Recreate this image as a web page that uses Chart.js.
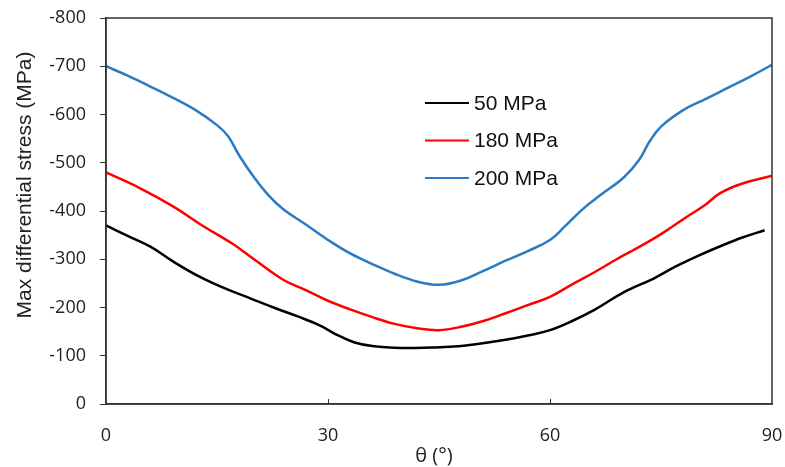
<!DOCTYPE html>
<html>
<head>
<meta charset="utf-8">
<script src="https://cdn.jsdelivr.net/npm/chart.js@4.4.1/dist/chart.umd.min.js"></script>
<style>
  html, body { margin: 0; padding: 0; background: #fff; }
  #wrap { width: 785px; height: 467px; }
</style>
</head>
<body>
<div id="wrap"><canvas id="stressChart" width="785" height="467"></canvas></div>
<script>
var seriesLabels = ['50 MPa', '180 MPa', '200 MPa'];
var seriesColors = ['#000000', '#ff0000', '#2b7bc4'];

var theta50 = [0, 3, 6, 9, 12.5, 16, 19.5, 23, 26, 29, 31, 33.5, 36, 40, 44, 47, 50, 54, 57, 60, 63, 66, 70, 74, 77, 80, 83.5, 86, 89];
var stress50 = [-370, -348, -326, -296, -265, -240, -219, -198, -181, -162, -145, -128, -120, -116, -117, -119, -124, -133, -142, -153, -172, -195, -232, -260, -285, -307, -330, -345, -360];

var theta180 = [0, 4.5, 9, 13, 17, 20, 24, 27, 30, 33, 36, 39, 42, 45, 48, 51, 54, 57, 60, 63, 66, 69, 72, 75, 78, 81, 83, 86, 90];
var stress180 = [-480, -448, -410, -370, -333, -300, -257, -236, -214, -196, -180, -166, -157, -153, -160, -172, -188, -205, -222, -248, -273, -300, -325, -352, -383, -413, -437, -457, -473];

var theta200 = [0, 3, 6, 9, 12, 15, 16.5, 18, 20, 22, 24, 27, 30, 33, 36, 39, 42, 45, 48, 51, 54, 57, 60, 62, 64.5, 67, 70, 72, 73.5, 75, 78, 81, 84, 87, 90];
var stress200 = [-700, -680, -658, -635, -610, -578, -555, -515, -470, -432, -403, -372, -340, -312, -290, -270, -254, -247, -256, -276, -297, -317, -340, -368, -405, -435, -470, -505, -545, -575, -609, -632, -655, -678, -703];

var xTickValues = [0, 30, 60, 90];
var xTitle = 'θ (°)';
var yTitle = 'Max differential stress (MPa)';

function toPoints(xs, ys) {
    var pts = [];
    for (var i = 0; i < xs.length; i++) {
        pts.push({ x: xs[i], y: ys[i] });
    }
    return pts;
}

var allSeries = [toPoints(theta50, stress50), toPoints(theta180, stress180), toPoints(theta200, stress200)];
var datasets = [];
for (var i = 0; i < allSeries.length; i++) {
    datasets.push({
        label: seriesLabels[i],
        data: allSeries[i],
        borderColor: seriesColors[i],
        borderWidth: 2.5,
        pointRadius: 0,
        fill: false,
        tension: 0.4
    });
}

var axisColor = '#333333';

// frame, inner x ticks, legend and axis titles
var decorations = {
    id: 'decorations',
    afterDatasetsDraw: function (chart) {
        var ctx = chart.ctx,
            area = chart.chartArea,
            xScale = chart.scales.x;

        ctx.save();
        ctx.strokeStyle = axisColor;
        ctx.lineWidth = 1.5;
        ctx.strokeRect(area.left, area.top, area.right - area.left, area.bottom - area.top);

        // small upward ticks on the inner x values
        ctx.lineWidth = 1;
        for (var i = 1; i < xTickValues.length - 1; i++) {
            var px = Math.round(xScale.getPixelForValue(xTickValues[i])) + 0.5;
            ctx.beginPath();
            ctx.moveTo(px, area.bottom);
            ctx.lineTo(px, area.bottom - 5);
            ctx.stroke();
        }

        // legend
        var lx = area.left + 319,
            ly = area.top + 85;
        ctx.font = '21px "Liberation Sans", Arial, sans-serif';
        ctx.textBaseline = 'middle';
        ctx.textAlign = 'left';
        chart.data.datasets.forEach(function (ds, k) {
            var y = ly + k * 37.5;
            ctx.strokeStyle = ds.borderColor;
            ctx.lineWidth = 2;
            ctx.beginPath();
            ctx.moveTo(lx, y);
            ctx.lineTo(lx + 44, y);
            ctx.stroke();
            ctx.fillStyle = '#111';
            ctx.fillText(ds.label, lx + 49, y + 1);
        });

        // axis titles
        ctx.fillStyle = '#222';
        ctx.textAlign = 'center';
        ctx.font = '20px "Open Sans", sans-serif';
        ctx.fillText(xTitle, 434, 456);

        ctx.translate(25, 185);
        ctx.rotate(-Math.PI / 2);
        ctx.font = '21px "Liberation Sans", Arial, sans-serif';
        ctx.fillText(yTitle, 0, 0);
        ctx.restore();
    }
};

var ctx = document.getElementById('stressChart').getContext('2d');

var stressChart = new Chart(ctx, {
    type: 'line',
    data: { datasets: datasets },
    plugins: [decorations],
    options: {
        responsive: false,
        animation: false,
        layout: { padding: { top: 18, right: 13, left: 0, bottom: 0 } },
        plugins: {
            legend: { display: false },
            tooltip: { enabled: false }
        },
        scales: {
            x: {
                type: 'linear',
                min: 0,
                max: 90,
                afterBuildTicks: function (scale) {
                    scale.ticks = xTickValues.map(function (v) { return { value: v }; });
                },
                afterFit: function (scale) {
                    scale.height = 63;
                    scale.paddingLeft = 0;
                    scale.paddingRight = 0;
                },
                grid: { drawOnChartArea: false, drawTicks: false },
                border: { color: axisColor, width: 1.5 },
                ticks: {
                    padding: 21,
                    color: '#222',
                    font: { family: '"Open Sans", sans-serif', size: 18 }
                }
            },
            y: {
                type: 'linear',
                min: -800,
                max: 0,
                reverse: true,
                afterFit: function (scale) {
                    scale.width = 106;
                    scale.paddingTop = 0;
                    scale.paddingBottom = 0;
                },
                grid: { drawOnChartArea: false, drawTicks: true, tickLength: 6, color: axisColor },
                border: { color: axisColor, width: 1.5 },
                ticks: {
                    stepSize: 100,
                    padding: 14,
                    color: '#222',
                    font: { family: '"Open Sans", sans-serif', size: 18 }
                }
            }
        }
    }
});
</script>
</body>
</html>
